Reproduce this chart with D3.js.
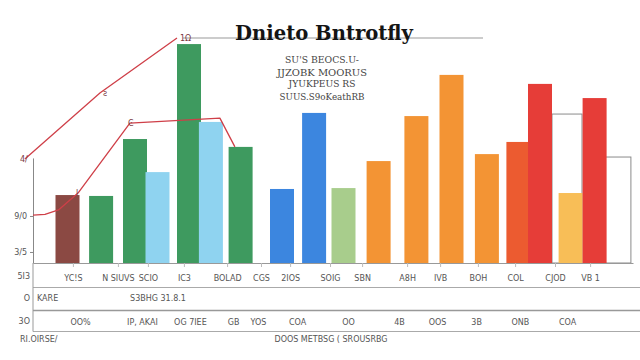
<!DOCTYPE html>
<html>
<head>
<meta charset="utf-8">
<script src="https://cdn.jsdelivr.net/npm/d3@7"></script>
<style>
  body { margin: 0; background: #fff; }
  text { font-family: "DejaVu Sans", sans-serif; fill: #555; }
</style>
</head>
<body>
<svg id="chart" width="640" height="360"></svg>
<script>
const W = 640, H = 360;

// bars: where they sit on the x axis (axis units), their value, colour group
const barX = [1.15, 2.27, 3.4, 4.15, 5.2, 5.93, 6.92, 8.3, 9.37, 10.35, 11.52, 12.78, 13.95, 15.13, 16.18, 16.9, 17.92, 18.72];
const barValues = [30.2, 29.8, 55.1, 40.4, 97.3, 62.7, 51.6, 32.9, 66.7, 33.3, 45.3, 65.3, 83.6, 48.4, 53.8, 79.6, 31.1, 73.3];
const barGroups = ["brown", "green", "green", "sky", "green", "sky", "green", "blue", "blue", "lime",
                   "orange", "orange", "orange", "orange", "flame", "red", "amber", "red"];

// hollow outline bars behind the last ones
const ghostX = [17.8, 19.43];
const ghostValues = [66.2, 47.1];

// two red lines
const lineA = [[-0.27, 46.2], [2.23, 75.6], [4.8, 100]];
const lineALabels = ["4/", "ƨ", "1Ω"];
const lineB = [[0, 21.3], [0.4, 21.6], [0.85, 23.6], [1.5, 31.1], [3.23, 62.2], [6.23, 64.4], [6.73, 51.6]];
const lineBLabels = ["", "", "", "l", "Ͼ", "", ""];

const yTicks = [20.9, 4.9];
const yTickLabels = ["9/0", "3/5"];

const row1Ticks = [1.33, 2.83, 3.83, 5.03, 6.47, 7.6, 8.57, 9.9, 10.97, 12.47, 13.57, 14.83, 16.07, 17.4, 18.57];
const row1Labels = ["YC!S", "N SIUVS", "SCIO", "IC3", "BOLAD", "CGS", "2IOS", "SOIG", "SBN", "A8H", "IVB", "BOH", "COL", "CJOD", "VB 1"];
const row3Ticks = [1.57, 3.63, 5.23, 6.67, 7.5, 8.8, 10.5, 12.2, 13.47, 14.77, 16.23, 17.8];
const row3Labels = ["OO%", "IP, AKAI", "OG 7IEE", "GB", "YOS", "COA", "OO", "4B", "OOS", "3B", "ONB", "COA"];

const title = "Dnieto Bntrotfly";
const subtitle = ["SU'S BEOCS.U-", "JJZOBK MOORUS", "JYUKPEUS RS", "SUUS.S9oKeathRB"];
const sideLabels = ["5I3", "O", "3O"];
const row2Labels = ["KARE", "S3BHG 31.8.1"];
const footer = ["RI.OIRSE/", "DOOS METBSG ( SROUSRBG"];

const colour = d3.scaleOrdinal()
  .domain(["brown", "green", "sky", "blue", "lime", "orange", "flame", "red", "amber"])
  .range(["#8b4943", "#3e9a5f", "#8fd3f0", "#3c86df", "#a8cd8c", "#f39434", "#ec5b30", "#e63d38", "#f8be57"]);

const margin = { left: 33, bottom: 263 };
const x = d3.scaleLinear().domain([0, 20]).range([margin.left, 633]);
const y = d3.scaleLinear().domain([0, 100]).range([margin.bottom, 38]);
const barW = x(0.8) - x(0);
const ghostW = x(1) - x(0);
const tableFont = "8px";

const svg = d3.select("#chart");

// title + underline
svg.append("line")
  .attr("x1", 183).attr("x2", 483)
  .attr("y1", y(100)).attr("y2", y(100))
  .attr("stroke", "#999").attr("stroke-width", 1.2);
svg.append("text")
  .attr("x", 324).attr("y", 40)
  .attr("text-anchor", "middle")
  .attr("textLength", 178).attr("lengthAdjust", "spacingAndGlyphs")
  .style("font", "bold 20px 'DejaVu Serif', serif")
  .style("fill", "#141414")
  .text(title);

const subY = [63, 76, 87, 100];
const subLen = [74, 90, 67, 85];
svg.append("g").selectAll("text")
  .data(subtitle)
  .join("text")
  .attr("x", 322)
  .attr("y", (d, i) => subY[i])
  .attr("text-anchor", "middle")
  .attr("textLength", (d, i) => subLen[i]).attr("lengthAdjust", "spacingAndGlyphs")
  .style("font", "9px 'DejaVu Serif', serif")
  .style("fill", "#444")
  .text(d => d);

// hollow outlines
svg.append("g").selectAll("rect")
  .data(ghostValues)
  .join("rect")
  .attr("x", (d, i) => x(ghostX[i]) - ghostW / 2)
  .attr("y", d => y(d))
  .attr("width", ghostW)
  .attr("height", d => y(0) - y(d))
  .attr("fill", "none")
  .attr("stroke", "#8a8a8a")
  .attr("stroke-width", 1);

// bars
svg.append("g").selectAll("rect")
  .data(barValues)
  .join("rect")
  .attr("x", (d, i) => x(barX[i]) - barW / 2)
  .attr("y", d => y(d))
  .attr("width", barW)
  .attr("height", d => y(0) - y(d))
  .attr("fill", (d, i) => colour(barGroups[i]));

// y axis (short, only the lower part)
const yShort = y.copy().domain([0, 46.7]).range([y(0), y(46.7)]);
svg.append("g")
  .attr("transform", `translate(${margin.left},0)`)
  .call(d3.axisLeft(yShort).tickValues(yTicks).tickFormat((d, i) => yTickLabels[i]).tickSize(3).tickPadding(3).tickSizeOuter(0))
  .call(g => g.selectAll("path, line").attr("stroke", "#888"))
  .call(g => g.selectAll("text").style("font-size", tableFont).style("fill", "#555").style("font-family", "DejaVu Sans"));

// red lines
svg.append("path")
  .datum(lineA)
  .attr("d", d3.line().x(d => x(d[0])).y(d => y(d[1])))
  .attr("fill", "none").attr("stroke", "#cf3f48").attr("stroke-width", 1.3);
svg.append("path")
  .datum(lineB)
  .attr("d", d3.line().x(d => x(d[0])).y(d => y(d[1])).curve(d3.curveLinear))
  .attr("fill", "none").attr("stroke", "#cf3f48").attr("stroke-width", 1.3)
  .attr("stroke-linejoin", "round");

svg.append("g").selectAll("text")
  .data(lineA)
  .join("text")
  .attr("x", (d, i) => x(d[0]) + (i === 0 ? -5 : 3))
  .attr("y", d => y(d[1]) + 3)
  .style("font-size", "8px").style("fill", "#7a3a3f")
  .text((d, i) => lineALabels[i]);
svg.append("g").selectAll("text")
  .data(lineB)
  .join("text")
  .attr("x", d => x(d[0]) - 2)
  .attr("y", d => y(d[1]) + 3)
  .style("font-size", "8px").style("fill", "#7a3a3f")
  .text((d, i) => lineBLabels[i]);

// x axis = first table row
svg.append("g")
  .attr("transform", `translate(0,${margin.bottom})`)
  .call(d3.axisBottom(x).tickValues(row1Ticks).tickFormat((d, i) => row1Labels[i]).tickSize(4).tickPadding(8).tickSizeOuter(0))
  .call(g => g.select(".domain").attr("stroke", "#999"))
  .call(g => g.selectAll(".tick line").attr("stroke", "#bbb"))
  .call(g => g.selectAll("text").style("font-size", tableFont).style("fill", "#555").style("font-family", "DejaVu Sans"));

// table rules
const rules = [287.5, 310.5, 331.5];
svg.append("g").selectAll("line")
  .data(rules)
  .join("line")
  .attr("x1", margin.left).attr("x2", W)
  .attr("y1", d => d).attr("y2", d => d)
  .attr("stroke", (d, i) => i === 1 ? "#999" : "#aaa")
  .attr("stroke-width", (d, i) => i === 1 ? 1.5 : 1);
svg.append("line")
  .attr("x1", margin.left).attr("x2", margin.left)
  .attr("y1", margin.bottom).attr("y2", 331.5)
  .attr("stroke", "#999");

// side labels of the rows
const sideY = [279, 301, 324];
svg.append("g").selectAll("text")
  .data(sideLabels)
  .join("text")
  .attr("x", 30).attr("y", (d, i) => sideY[i])
  .attr("text-anchor", "end")
  .style("font-size", tableFont)
  .text(d => d);

// second row
svg.append("text").attr("x", 37).attr("y", 301).style("font-size", tableFont).text(row2Labels[0]);
svg.append("text").attr("x", 158).attr("y", 301).attr("text-anchor", "middle").style("font-size", tableFont).text(row2Labels[1]);

// third row
svg.append("g")
  .attr("transform", "translate(0,311)")
  .call(d3.axisBottom(x).tickValues(row3Ticks).tickFormat((d, i) => row3Labels[i]).tickSize(0).tickPadding(8))
  .call(g => g.select(".domain").remove())
  .call(g => g.selectAll("text").style("font-size", tableFont).style("fill", "#555").style("font-family", "DejaVu Sans"));

// footer
svg.append("text").attr("x", 20).attr("y", 342).style("font-size", tableFont).text(footer[0]);
svg.append("text").attr("x", 331).attr("y", 342).attr("text-anchor", "middle").style("font-size", tableFont).text(footer[1]);
</script>
</body>
</html>
